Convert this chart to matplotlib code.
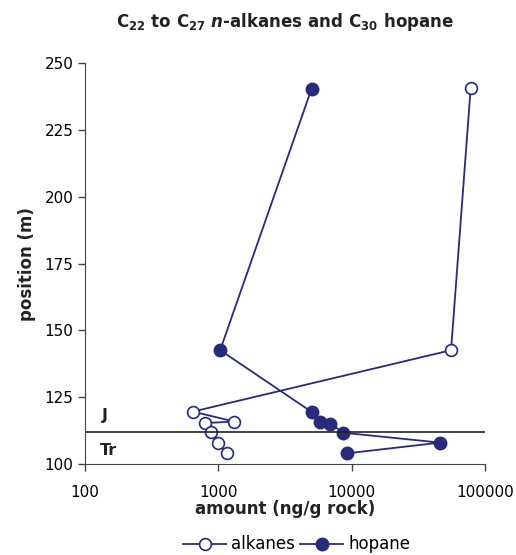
import matplotlib.pyplot as plt

# data
alk_x = [78000, 55600, 643, 1311, 790, 877, 1000, 1156]
alk_y = [240.6, 142.6, 119.6, 115.9, 115.3, 111.9, 108.0, 104.0]
hop_x = [5000, 1030, 5000, 5790, 6880, 8660, 46000, 9290]
hop_y = [240.5, 142.6, 119.5, 115.9, 115.1, 111.7, 108.0, 104.0]
boundary = 112
yticks = [100, 125, 150, 175, 200, 225, 250]
xticks = [100, 1000, 10000, 100000]

navy = '#272b7a'

fig = plt.figure(figsize=(5.16, 5.55), dpi=100)
ax = fig.add_axes([0.165, 0.164, 0.775, 0.722])

ax.plot(alk_x, alk_y, '-o', color=navy, lw=1.3, ms=8.5, mfc='white',
        mec=navy, mew=1.2, label='alkanes')
ax.plot(hop_x, hop_y, '-o', color=navy, lw=1.3, ms=9, mfc=navy,
        mec=navy, label='hopane')
ax.axhline(boundary, color='#222222', lw=1.2)

ax.text(134, 118, 'J', fontsize=11.5, fontweight='bold', va='center', color='#222222')
ax.text(128, 105, 'Tr', fontsize=11.5, fontweight='bold', va='center', color='#222222')

ax.set_xscale('log')
ax.set_xlim(100, 100000)
ax.set_ylim(100, 250)
ax.set_xticks(xticks)
ax.set_xticklabels([str(v) for v in xticks])
ax.minorticks_off()
ax.set_yticks(yticks)
ax.tick_params(labelsize=11, length=5, color='#444444', width=1)
ax.tick_params(axis='x', pad=10)
for s in ['top', 'right']:
    ax.spines[s].set_visible(False)
for s in ['left', 'bottom']:
    ax.spines[s].set_color('#444444')

ax.set_xlabel('amount (ng/g rock)', fontsize=12, fontweight='bold', labelpad=0, color='#222222')
ax.set_ylabel('position (m)', fontsize=12, fontweight='bold', labelpad=6, color='#222222')
ax.set_title(r'C$_\mathbf{22}$ to C$_\mathbf{27}$ $\mathbfit{n}$-alkanes and C$_\mathbf{30}$ hopane',
             fontsize=12, fontweight='bold', pad=26, color='#222222')

fig.legend(loc='lower center', bbox_to_anchor=(0.575, 0.0), ncol=2, frameon=False,
           fontsize=12, handlelength=2.6, columnspacing=0.3, handletextpad=0.3,
           borderaxespad=0.0, borderpad=0.1)

fig.savefig('out.png', dpi=100)
